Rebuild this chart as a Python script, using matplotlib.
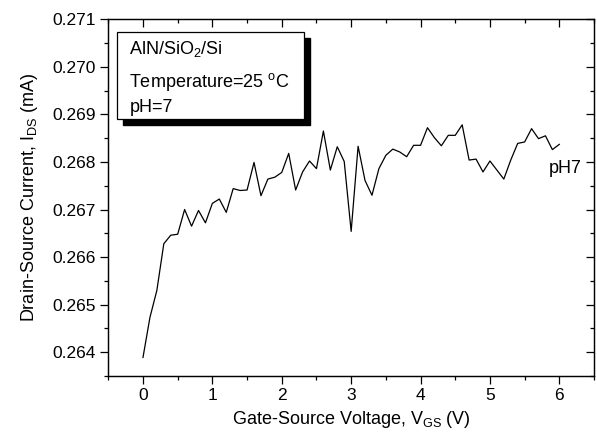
import matplotlib
matplotlib.use("Agg")
import matplotlib.pyplot as plt
from matplotlib.ticker import MultipleLocator
from matplotlib.patches import Rectangle

plt.rcParams['font.family'] = ['Liberation Sans', 'DejaVu Sans']
plt.rcParams['mathtext.fontset'] = 'custom'
plt.rcParams['mathtext.rm'] = 'Liberation Sans'
plt.rcParams['mathtext.it'] = 'Liberation Sans:italic'

# gate-source voltage (V) and drain-source current (mA)
vgs = [i / 10 for i in range(61)]
ids = [0.26389, 0.26473, 0.26530, 0.26628, 0.26646, 0.26648, 0.26700, 0.26665,
       0.26698, 0.26672, 0.26713, 0.26722, 0.26694, 0.26744, 0.26740, 0.26741,
       0.26799, 0.26729, 0.26764, 0.26768, 0.26778, 0.26818, 0.26741, 0.26779,
       0.26802, 0.26786, 0.26865, 0.26783, 0.26832, 0.26801, 0.26654, 0.26833,
       0.26761, 0.26730, 0.26786, 0.26814, 0.26827, 0.26821, 0.26811, 0.26835,
       0.26835, 0.26872, 0.26851, 0.26834, 0.26856, 0.26856, 0.26878, 0.26804,
       0.26806, 0.26779, 0.26802, 0.26783, 0.26764, 0.26804, 0.26839, 0.26842,
       0.26870, 0.26849, 0.26855, 0.26826, 0.26837]

info_lines = ['AlN/SiO$_\\mathregular{2}$/Si',
              'Temperature=25 $\\mathregular{^{o}}$C',
              'pH=7']
curve_label = 'pH7'

fig = plt.figure(figsize=(5.97, 4.38), dpi=100)
ax = fig.add_axes([0.1814, 0.1416, 0.8136, 0.8144])

ax.plot(vgs, ids, color='black', linewidth=0.9)

ax.set_xlim(-0.5, 6.5)
ax.set_ylim(0.2635, 0.271)
ax.xaxis.set_major_locator(MultipleLocator(1))
ax.xaxis.set_minor_locator(MultipleLocator(0.5))
ax.yaxis.set_major_locator(MultipleLocator(0.001))
ax.yaxis.set_minor_locator(MultipleLocator(0.0005))
ax.yaxis.set_major_formatter(plt.FormatStrFormatter('%.3f'))
ax.tick_params(which='major', direction='out', length=6, width=0.9, labelsize=12.5, pad=3)
ax.tick_params(which='minor', direction='out', length=3, width=0.9)
for s in ax.spines.values():
    s.set_linewidth(0.9)

# inward ticks on top and right, like the original
axt = ax.twiny()
axt.set_xlim(ax.get_xlim())
axt.xaxis.set_major_locator(MultipleLocator(1))
axt.xaxis.set_minor_locator(MultipleLocator(0.5))
axt.tick_params(which='both', direction='in', labeltop=False, width=0.9)
axt.tick_params(which='major', length=6)
axt.tick_params(which='minor', length=3)
axr = ax.twinx()
axr.set_ylim(ax.get_ylim())
axr.yaxis.set_major_locator(MultipleLocator(0.001))
axr.yaxis.set_minor_locator(MultipleLocator(0.0005))
axr.tick_params(which='both', direction='in', labelright=False, width=0.9)
axr.tick_params(which='major', length=6)
axr.tick_params(which='minor', length=3)

ax.set_xlabel('Gate-Source Voltage, V$_\\mathregular{GS}$ (V)', fontsize=13, labelpad=4)
ax.set_ylabel('Drain-Source Current, I$_\\mathregular{DS}$ (mA)', fontsize=13, labelpad=9)

# info box with drop shadow
bx0, by0, bw, bh = 117.3 / 597, 1 - 119 / 438, (304 - 117.3) / 597, (119 - 31.7) / 438
fig.patches.append(Rectangle((bx0 + 6 / 597, by0 - 6 / 438), bw, bh, transform=fig.transFigure,
                             facecolor='black', edgecolor='black', zorder=5))
fig.patches.append(Rectangle((bx0, by0), bw, bh, transform=fig.transFigure,
                             facecolor='white', edgecolor='black', linewidth=0.9, zorder=6))
for txt, yy in zip(info_lines, [49, 82, 107]):
    fig.text(129.3 / 597, 1 - yy / 438, txt, fontsize=13, va='center', ha='left', zorder=7)

ax.text(5.85, 0.26787, curve_label, fontsize=13, va='center', ha='left')

fig.savefig('out.png', dpi=100)
